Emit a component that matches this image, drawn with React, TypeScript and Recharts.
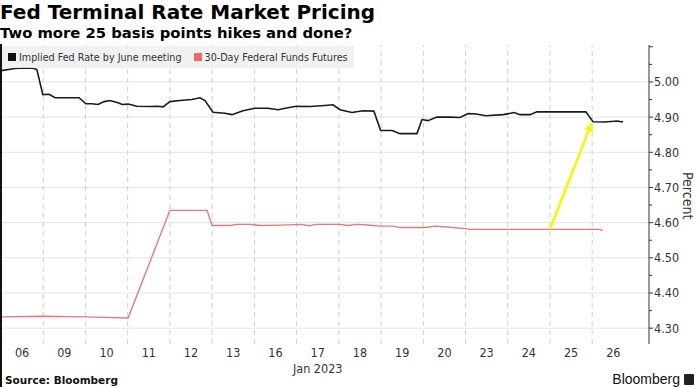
import React from 'react';
import { LineChart, Line, XAxis, YAxis, ReferenceLine } from 'recharts';

// day labels along the x axis (one slot per trading day)
const days = ['06', '09', '10', '11', '12', '13', '16', '17', '18', '19', '20', '23', '24', '25', '26'];

// x = position in trading-day slots (0 = start of 06 Jan)
const impliedX = [
  0, 0.33, 0.57, 0.76, 0.85, 0.99, 1.14, 1.28, 1.63, 1.85, 2.01, 2.15, 2.3, 2.44, 2.58, 2.77, 2.87,
  3.01, 3.22, 3.53, 3.72, 3.84, 4.0, 4.24, 4.52, 4.71, 4.83, 5.02, 5.3, 5.47, 5.73, 6.01, 6.32, 6.56,
  6.73, 6.99, 7.32, 7.67, 7.86, 8.03, 8.31, 8.57, 8.83, 8.99, 9.26, 9.45, 9.85, 9.97, 10.11, 10.32,
  10.63, 10.87, 11.06, 11.25, 11.48, 11.89, 12.15, 12.29, 12.53, 12.69, 13.85, 14.02, 14.3, 14.59, 14.73,
];
const impliedRate = [
  5.032, 5.038, 5.04, 5.039, 5.035, 4.964, 4.965, 4.955, 4.955, 4.955, 4.938, 4.938, 4.936, 4.944, 4.947,
  4.941, 4.936, 4.937, 4.931, 4.93, 4.931, 4.929, 4.944, 4.947, 4.95, 4.955, 4.947, 4.914, 4.911, 4.907,
  4.918, 4.925, 4.925, 4.921, 4.925, 4.931, 4.93, 4.933, 4.935, 4.921, 4.913, 4.918, 4.917, 4.862, 4.862,
  4.853, 4.853, 4.893, 4.89, 4.9, 4.9, 4.899, 4.91, 4.909, 4.904, 4.907, 4.913, 4.907, 4.907, 4.915,
  4.915, 4.887, 4.886, 4.889, 4.886,
];

const futuresX = [
  0, 0.99, 2.01, 3.01, 4.0, 4.88, 5.0, 5.42, 5.59, 5.9, 6.13, 6.61, 7.08, 7.32, 7.44, 8.03, 8.22, 8.43,
  8.62, 8.97, 9.28, 9.45, 10.04, 10.28, 10.63, 10.99, 11.11, 14.18, 14.25,
];
const futuresRate = [
  4.332, 4.334, 4.332, 4.329, 4.635, 4.635, 4.592, 4.592, 4.595, 4.595, 4.592, 4.593, 4.595, 4.591, 4.595,
  4.595, 4.592, 4.595, 4.594, 4.59, 4.59, 4.586, 4.586, 4.59, 4.587, 4.583, 4.581, 4.581, 4.577,
];

const yTicks = [4.3, 4.35, 4.4, 4.45, 4.5, 4.55, 4.6, 4.65, 4.7, 4.75, 4.8, 4.85, 4.9, 4.95, 5.0, 5.05, 5.1];
const gridValues = [4.3, 4.4, 4.5, 4.6, 4.7, 4.8, 4.9, 5.0];

// annotation arrow: from the futures line to the implied rate after the drop
const arrowFrom = { x: 13, y: 4.581 };
const arrowTo = { x: 14, y: 4.887 };

const impliedData = impliedX.map((x, i) => ({ x, v: impliedRate[i] }));
const futuresData = futuresX.map((x, i) => ({ x, v: futuresRate[i] }));

const narrow = '"DejaVu Sans Condensed", "DejaVu Sans", sans-serif';
const bold = '"DejaVu Sans", sans-serif';

const DayTick = (props: any) => {
  const { x, y, payload } = props;
  const label = days[Math.floor(payload.value)];
  return (
    <g>
      <text x={x} y={y + 13} textAnchor="middle" fontFamily={narrow} fontSize={12.5} fill="#333" style={{ fontStretch: 'condensed' }}>
        {label}
      </text>
      {label === '17' && (
        <text x={x} y={y + 29} textAnchor="middle" fontFamily={narrow} fontSize={12.5} fill="#333" style={{ fontStretch: 'condensed' }}>
          Jan 2023
        </text>
      )}
    </g>
  );
};

const RateTick = (props: any) => {
  const { x, y, payload } = props;
  const v = payload.value as number;
  const major = Math.abs(v * 10 - Math.round(v * 10)) < 0.001;
  return (
    <g>
      <line x1={x} x2={x + (major ? 4 : 3)} y1={y} y2={y} stroke="#333" />
      {major && v < 5.05 && (
        <text x={x + 5} y={y + 4.5} fontFamily={narrow} fontSize={12.5} fill="#333" style={{ fontStretch: 'condensed' }}>
          {v.toFixed(2)}
        </text>
      )}
    </g>
  );
};

const Arrow = (props: any) => {
  const { x1, y1, x2, y2 } = props;
  const ang = Math.atan2(y2 - y1, x2 - x1);
  const len = 11;
  const w = 0.45;
  const p1 = [x2 - len * Math.cos(ang - w), y2 - len * Math.sin(ang - w)];
  const p2 = [x2 - len * Math.cos(ang + w), y2 - len * Math.sin(ang + w)];
  const bx = x2 - (len - 2) * Math.cos(ang);
  const by = y2 - (len - 2) * Math.sin(ang);
  return (
    <g>
      <line x1={x1} y1={y1} x2={bx} y2={by} stroke="#f5f523" strokeWidth={3} />
      <polygon points={`${x2},${y2} ${p1[0]},${p1[1]} ${p2[0]},${p2[1]}`} fill="#f5f523" />
    </g>
  );
};

const swatch = (color: string, ml: number): React.CSSProperties => ({
  display: 'inline-block',
  flexShrink: 0,
  width: 8,
  height: 8,
  background: color,
  marginLeft: ml,
  marginRight: 3,
});

export default function App() {
  return (
    <div
      style={{
        position: 'absolute',
        left: 0,
        top: 0,
        width: 698,
        height: 387,
        background: '#fff',
        overflow: 'hidden',
      }}
    >
      <div style={{ position: 'absolute', left: 0, top: 0 }}>
        <div style={{ fontFamily: bold, fontWeight: 700, fontSize: 20, lineHeight: '24px', color: '#000', whiteSpace: 'nowrap' }}>
          Fed Terminal Rate Market Pricing
        </div>
        <div style={{ fontFamily: bold, fontWeight: 700, fontSize: 14.8, lineHeight: '18px', color: '#000', whiteSpace: 'nowrap' }}>
          Two more 25 basis points hikes and done?
        </div>
      </div>

      <LineChart
        width={698}
        height={387}
        margin={{ top: 45, right: 0, bottom: 0, left: 1 }}
        style={{ position: 'absolute', left: 0, top: 0 }}
      >
        <XAxis
          type="number"
          dataKey="x"
          domain={[0, 15.345]}
          ticks={days.map((_, i) => i + 0.5)}
          tick={<DayTick />}
          axisLine={false}
          tickLine={false}
          tickSize={0}
          tickMargin={0}
          height={43}
          interval={0}
          allowDataOverflow
        />
        <YAxis
          orientation="right"
          type="number"
          domain={[4.255, 5.105]}
          ticks={yTicks}
          tick={<RateTick />}
          tickLine={false}
          tickSize={0}
          tickMargin={0}
          axisLine={{ stroke: '#333' }}
          width={49}
          interval={0}
          allowDataOverflow
        />
        {gridValues.map((v) => (
          <ReferenceLine key={'h' + v} y={v} stroke="#e4e4e4" strokeWidth={1} />
        ))}
        {days.slice(1).map((_, i) => (
          <ReferenceLine key={'v' + i} x={i + 1} stroke="#cfcfcf" strokeDasharray="5 4" strokeWidth={1} />
        ))}
        <Line
          data={futuresData}
          dataKey="v"
          type="linear"
          stroke="#e47a7a"
          strokeWidth={1.4}
          dot={false}
          isAnimationActive={false}
        />
        <Line
          data={impliedData}
          dataKey="v"
          type="linear"
          stroke="#1a1a1a"
          strokeWidth={1.6}
          dot={false}
          isAnimationActive={false}
        />
        <ReferenceLine segment={[arrowFrom, arrowTo]} shape={<Arrow />} />
      </LineChart>

      {/* y-axis title */}
      <div
        style={{
          position: 'absolute',
          left: 679,
          top: 168,
          width: 18,
          height: 56,
          writingMode: 'vertical-rl',
          fontFamily: narrow,
          fontStretch: 'condensed',
          fontSize: 14,
          color: '#333',
          textAlign: 'center',
          lineHeight: '18px',
          whiteSpace: 'nowrap',
        }}
      >
        Percent
      </div>

      {/* legend band */}
      <div
        style={{
          position: 'absolute',
          left: 2,
          top: 46,
          height: 22,
          paddingRight: 6,
          background: 'rgba(238,238,238,0.85)',
          fontFamily: narrow,
          fontStretch: 'condensed',
          fontSize: 10.7,
          color: '#333',
          display: 'flex',
          alignItems: 'center',
          whiteSpace: 'nowrap',
        }}
      >
        <span style={swatch('#111', 6)} />
        <span>Implied Fed Rate by June meeting</span>
        <span style={swatch('#ee6a6a', 12)} />
        <span>30-Day Federal Funds Futures</span>
      </div>

      <div style={{ position: 'absolute', left: 0, top: 44, width: 2, height: 343, background: '#111' }} />

      <div
        style={{
          position: 'absolute',
          left: 5,
          top: 374,
          fontFamily: bold,
          fontWeight: 700,
          fontSize: 10.5,
          color: '#111',
          whiteSpace: 'nowrap',
        }}
      >
        Source: Bloomberg
      </div>
      <div
        style={{
          position: 'absolute',
          right: 4,
          top: 371,
          fontFamily: '"Liberation Sans", sans-serif',
          fontSize: 14,
          color: '#111',
          display: 'flex',
          alignItems: 'center',
        }}
      >
        <span>Bloomberg</span>
        <span
          style={{
            display: 'inline-block',
            width: 10,
            height: 11,
            background: '#222',
            marginLeft: 4,
            borderRadius: 1,
          }}
        />
      </div>
    </div>
  );
}
